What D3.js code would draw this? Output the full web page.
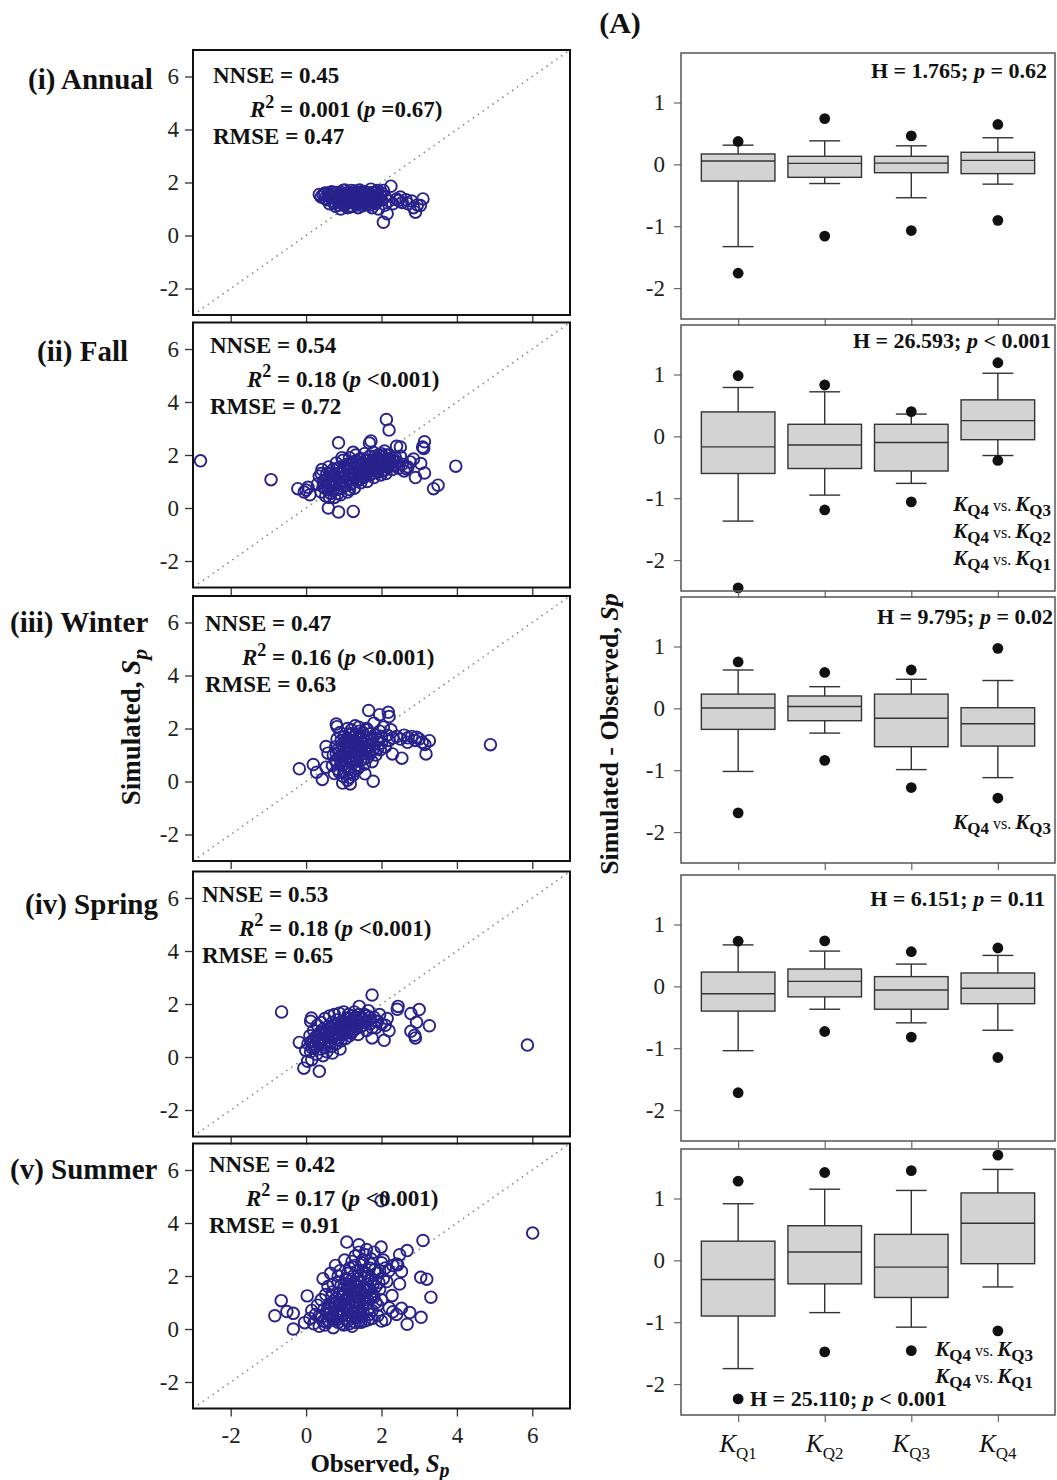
<!DOCTYPE html>
<html><head><meta charset="utf-8">
<script src="https://cdn.jsdelivr.net/npm/d3@7"></script>
<style>
body{margin:0;background:#fff}
svg{display:block}
text{font-family:"Liberation Serif","Times New Roman",serif;white-space:pre}
</style>
</head><body>
<svg id="chart" width="1057" height="1480"></svg>
<script>
// ---------------- DATA ----------------
const seasonLabels = ["(i) Annual", "(ii) Fall", "(iii) Winter", "(iv) Spring", "(v) Summer"];
const nnseValues = ["0.45", "0.54", "0.47", "0.53", "0.42"];
const r2Values = ["0.001", "0.18", "0.16", "0.18", "0.17"];
const r2PValues = ["=0.67", "<0.001", "<0.001", "<0.001", "<0.001"];
const rmseValues = ["0.47", "0.72", "0.63", "0.65", "0.91"];
const scatterTicks = [-2, 0, 2, 4, 6];

// Observed (x), Simulated (y)
const annualPoints = [[0.35,1.55],[0.4,1.45],[0.5,1.6],[0.55,1.35],[0.6,1.5],[0.62,1.2],[0.7,1.55],[0.72,1.3],[0.75,1.45],[0.78,1.1],[0.8,1.62],[0.85,1.4],[0.88,1.25],[0.9,1.55],[0.92,1.0],[0.95,1.35],[0.98,1.7],[1.0,1.15],[1.02,1.48],[1.05,1.3],[1.08,1.6],[1.1,1.05],[1.12,1.42],[1.15,1.25],[1.18,1.55],[1.2,1.7],[1.22,1.1],[1.25,1.38],[1.28,1.5],[1.3,1.2],[1.32,1.62],[1.35,1.32],[1.38,1.05],[1.4,1.45],[1.42,1.72],[1.45,1.25],[1.48,1.55],[1.5,1.12],[1.52,1.4],[1.55,1.65],[1.58,1.3],[1.6,1.5],[1.62,1.18],[1.65,1.42],[1.68,1.6],[1.7,1.28],[1.72,1.75],[1.75,1.05],[1.78,1.48],[1.8,1.35],[1.82,1.62],[1.85,1.2],[1.88,1.5],[1.9,1.7],[1.92,1.0],[1.95,1.4],[2.0,1.6],[2.05,0.5],[2.15,0.82],[2.1,1.15],[2.2,1.3],[2.25,1.86],[2.3,1.2],[2.4,1.38],[2.45,1.32],[2.5,1.45],[2.55,1.25],[2.65,1.35],[2.7,1.2],[2.8,1.3],[2.9,0.88],[2.95,1.15],[3.03,1.13],[3.1,1.38],[2.85,1.05]];
const annualCore = [[0.65,1.42],[0.68,1.65],[0.74,1.22],[0.83,1.52],[0.87,1.15],[0.93,1.62],[0.97,1.28],[1.03,1.72],[1.06,1.2],[1.09,1.45],[1.13,1.6],[1.16,1.08],[1.19,1.35],[1.23,1.55],[1.27,1.25],[1.29,1.68],[1.33,1.45],[1.36,1.15],[1.39,1.58],[1.43,1.35],[1.46,1.65],[1.49,1.28],[1.53,1.5],[1.56,1.2],[1.59,1.62],[1.63,1.35],[1.66,1.52],[1.69,1.15],[1.73,1.4],[1.76,1.62],[1.79,1.25],[1.83,1.45],[1.86,1.65],[1.89,1.3],[1.25,1.45],[1.15,1.5],[1.45,1.42],[1.35,1.52],[1.05,1.4],[1.55,1.38],[0.95,1.48],[1.65,1.3],[1.75,1.52],[1.2,1.25],[1.4,1.3],[0.45,1.55],[0.5,1.4],[0.58,1.6],[2.0,1.35],[2.1,1.45],[2.05,1.7],[1.97,1.52]];

const fallPoints = [[-2.8,1.78],[-0.93,1.07],[-0.22,0.73],[-0.05,0.6],[0.0,0.68],[0.1,0.5],[0.05,0.78],[0.59,0.0],[0.86,-0.15],[1.25,-0.13],[0.86,2.46],[2.13,3.34],[2.2,2.94],[1.72,2.53],[1.68,2.45],[2.4,2.33],[2.5,2.3],[3.14,2.5],[3.09,2.3],[3.12,2.25],[3.04,1.68],[3.14,1.32],[2.9,1.15],[3.38,0.73],[3.5,0.86],[3.97,1.58],[2.76,1.74],[2.65,1.49],[2.7,1.55],[2.85,1.85],
[0.3,0.9],[0.35,1.2],[0.4,0.6],[0.42,1.45],[0.45,0.8],[0.5,1.05],[0.52,0.45],[0.55,1.3],[0.58,0.7],[0.6,1.55],[0.62,0.95],
[0.65,0.55],[0.68,1.2],[0.7,0.85],[0.72,1.45],[0.75,0.4],[0.78,1.05],[0.8,1.7],[0.82,0.7],[0.85,1.3],[0.88,0.95],[0.9,1.55],[0.92,0.5],[0.95,1.15],[0.98,1.8],[1.0,0.8],
[1.02,1.4],[1.05,1.0],[1.08,1.65],[1.1,0.6],[1.12,1.25],[1.15,1.9],[1.18,0.9],[1.2,1.5],[1.22,1.1],[1.25,1.75],[1.28,0.75],[1.3,1.35],[1.32,2.0],[1.35,1.05],[1.38,1.6],[1.4,1.25],[1.42,1.85],[1.45,0.95],[1.48,1.45],[1.5,1.7],
[1.52,1.15],[1.55,2.05],[1.58,1.35],[1.6,1.8],[1.62,1.0],[1.65,1.55],[1.68,1.95],[1.7,1.25],[1.72,1.7],[1.75,1.45],[1.78,2.1],[1.8,1.15],[1.82,1.6],[1.85,1.85],[1.88,1.35],[1.9,1.75],[1.92,2.0],[1.95,1.5],[1.98,1.25],
[2.0,1.7],[2.02,1.95],[2.05,1.4],[2.08,2.15],[2.1,1.6],[2.12,1.3],[2.15,1.85],[2.18,1.55],[2.2,2.0],[2.25,1.7],[2.28,1.45],[2.3,1.9],[2.35,1.6],[2.4,1.75],[2.45,1.5],[2.5,1.95],[2.55,1.65],[2.6,1.4]];
const fallCore = [[0.45,1.0],[0.5,0.75],[0.55,1.1],[0.6,0.85],[0.65,1.3],[0.7,1.05],[0.72,0.65],[0.75,1.25],[0.8,0.95],[0.83,1.5],[0.87,1.15],[0.9,0.75],[0.93,1.35],[0.97,1.0],[1.0,1.55],[1.03,1.2],[1.06,0.85],[1.1,1.45],[1.13,1.1],[1.16,1.65],[1.2,1.3],[1.23,0.95],[1.27,1.55],[1.3,1.2],[1.33,1.75],[1.37,1.4],[1.4,1.05],[1.43,1.6],[1.47,1.3],[1.5,1.85],[1.53,1.5],[1.57,1.2],[1.6,1.65],[1.63,1.4],[1.67,1.8],[1.7,1.55],[1.73,1.3],[1.77,1.75],[1.8,1.5],[1.83,1.95],[1.87,1.65],[1.9,1.4],[1.93,1.85],[1.97,1.6],[2.0,2.05],[2.03,1.55],[2.07,1.8],[2.1,1.45],[2.13,2.0],[2.17,1.7],[2.22,1.85],[2.27,1.6],[2.32,1.75],[2.37,1.9],[0.85,0.55],[1.15,0.7],[0.62,0.4],[0.95,1.9],[1.25,2.1],[0.4,1.3]];

const winterPoints = [[-0.18,0.48],[0.19,0.64],[0.28,0.35],[0.43,0.08],[0.53,0.54],[0.53,1.32],[0.58,1.07],[0.8,2.17],[0.82,2.07],[0.97,-0.06],[1.17,-0.09],[1.1,0.05],[1.56,0.29],[1.78,0.01],[1.66,2.68],[1.95,2.52],[2.18,2.61],[2.2,2.45],[2.29,1.04],[2.54,0.88],[2.69,1.48],[2.93,1.67],[3.08,1.48],[3.18,1.04],[3.27,1.54],[3.15,1.4],[4.89,1.39],
[0.7,0.6],[0.72,1.0],[0.75,0.3],[0.78,1.3],[0.8,0.8],[0.82,1.6],[0.85,0.45],[0.88,1.1],[0.9,1.85],[0.92,0.7],[0.95,1.4],[0.98,0.2],[1.0,1.0],[1.02,1.7],[1.05,0.55],[1.08,1.25],[1.1,2.0],[1.12,0.85],[1.15,1.5],[1.18,0.35],[1.2,1.1],[1.22,1.8],[1.25,0.7],[1.28,1.35],[1.3,2.1],[1.32,0.95],[1.35,1.6],[1.38,0.5],[1.4,1.2],[1.42,1.9],[1.45,0.8],[1.48,1.45],[1.5,1.05],[1.52,1.7],[1.55,0.65],[1.58,1.3],[1.6,2.0],[1.62,0.9],[1.65,1.55],[1.68,1.15],[1.7,1.8],[1.75,0.75],[1.78,1.4],[1.8,2.2],[1.85,1.0],[1.88,1.6],[1.9,1.25],[1.95,1.9],[2.0,1.45],[2.05,2.05],[2.1,1.3],[2.15,1.75],[2.2,1.55],[2.25,1.95],[2.3,1.65],[2.4,1.7],[2.5,1.6],[2.6,1.75],[2.7,1.65],[2.8,1.7],[2.9,1.55],[3.0,1.6],[1.15,0.15],[1.25,0.25],[0.95,0.95],[1.05,1.5],[1.35,1.05]];
const winterCore = [[0.85,1.2],[0.9,0.95],[0.93,1.55],[0.97,0.6],[1.0,1.3],[1.03,0.85],[1.07,1.6],[1.1,1.1],[1.13,0.45],[1.15,1.8],[1.18,1.3],[1.2,0.75],[1.23,1.55],[1.27,1.0],[1.3,1.75],[1.33,0.6],[1.37,1.3],[1.4,0.95],[1.43,1.6],[1.47,1.15],[1.5,1.85],[1.53,0.85],[1.57,1.5],[1.6,1.15],[1.63,1.95],[1.67,1.35],[1.7,1.05],[1.73,1.6],[1.77,1.2],[1.25,1.45],[1.35,0.8],[1.45,1.35],[1.05,1.05],[1.15,0.95],[1.55,1.25],[1.2,1.95],[1.4,2.05],[0.88,0.35],[1.0,0.4],[1.3,0.4],[0.8,1.05],[1.82,1.75],[1.92,1.55],[2.0,1.7],[1.97,1.2]];

const springPoints = [[-0.65,1.7],[-0.18,0.55],[-0.06,-0.42],[0.35,-0.54],[-0.01,0.25],[0.04,-0.16],[0.15,-0.1],[0.14,1.47],[0.12,1.35],[1.75,2.34],[1.41,1.91],[2.44,1.91],[2.42,1.8],[2.78,1.64],[3.0,1.79],[3.27,1.18],[2.93,1.31],[2.78,0.97],[2.9,0.72],[2.88,0.82],[2.2,0.99],[2.07,0.63],[1.75,0.72],[2.1,1.2],[2.15,1.45],[5.87,0.45],
[0.05,0.5],[0.1,0.8],[0.12,0.2],[0.15,0.6],[0.2,1.0],[0.22,0.35],[0.25,0.75],[0.28,0.1],[0.3,1.2],[0.32,0.55],[0.35,0.9],[0.38,0.3],[0.4,1.3],[0.42,0.7],[0.45,1.05],[0.48,0.45],[0.5,1.45],[0.52,0.85],[0.55,0.2],[0.58,1.15],[0.6,0.6],[0.62,1.55],[0.65,0.95],[0.68,0.4],[0.7,1.3],[0.72,0.75],[0.75,1.6],[0.78,1.05],[0.8,0.5],[0.82,1.4],[0.85,0.85],[0.88,1.65],[0.9,1.15],[0.92,0.6],[0.95,1.35],[0.98,0.95],[1.0,1.7],[1.02,1.2],[1.05,0.7],[1.08,1.45],[1.1,1.0],[1.12,1.6],[1.15,0.8],[1.18,1.3],[1.2,1.55],[1.22,0.95],[1.25,1.2],[1.28,1.7],[1.3,1.05],[1.35,1.4],[1.38,0.85],[1.4,1.6],[1.45,1.15],[1.5,1.45],[1.55,1.3],[1.6,1.0],[1.62,1.55],[1.65,1.75],[1.7,1.25],[1.8,1.5],[1.85,1.1],[1.9,1.35],[1.95,1.6],[2.0,1.25],[0.9,0.3],[0.7,0.15],[0.45,0.05]];
const springCore = [[0.2,0.6],[0.25,0.4],[0.3,0.8],[0.35,0.55],[0.4,0.95],[0.45,0.65],[0.5,0.35],[0.55,1.0],[0.6,0.8],[0.65,0.55],[0.7,1.1],[0.75,0.85],[0.8,1.25],[0.85,0.65],[0.9,1.0],[0.95,1.25],[1.0,0.85],[1.05,1.3],[1.1,1.15],[1.15,1.45],[1.2,0.9],[1.25,1.35],[1.3,1.5],[1.35,1.15],[1.4,1.35],[1.45,1.5],[1.5,1.2],[1.55,1.6],[1.6,1.35],[1.7,1.5],[0.5,0.55],[0.62,0.95],[0.78,0.7],[0.88,1.05],[1.0,1.05],[1.12,1.25],[0.35,0.7],[0.15,0.35],[1.75,1.1],[1.85,1.35]];

const summerPoints = [[-0.83,0.5],[-0.66,1.07],[-0.51,0.66],[-0.34,0.59],[-0.34,0.0],[0.03,1.25],[-0.04,0.24],[6.01,3.62],[1.99,4.84],[1.08,3.28],[1.4,3.18],[3.1,3.34],[2.68,2.96],[2.48,2.8],[3.04,1.95],[3.2,1.88],[3.31,1.2],[3.05,0.44],[2.75,0.62],[2.68,0.18],[2.53,0.78],[2.48,1.7],[2.28,1.26],[2.53,2.17],[2.43,2.42],[2.14,1.79],[1.99,3.09],[2.3,0.65],[2.1,0.35],[2.4,0.55],[2.2,0.8],[2.0,0.3],
[0.1,0.4],[0.15,0.7],[0.2,0.2],[0.25,0.55],[0.3,0.9],[0.35,0.1],[0.4,1.1],[0.42,0.45],[0.45,1.9],[0.48,0.75],[0.5,0.15],[0.52,1.3],[0.55,0.6],[0.58,1.6],[0.6,0.3],[0.62,0.95],[0.65,2.1],[0.68,0.5],[0.7,1.4],[0.72,0.05],[0.75,0.8],[0.78,2.4],[0.8,1.15],[0.82,0.35],[0.85,1.75],[0.88,0.65],[0.9,2.2],[0.92,1.0],[0.95,0.2],[0.98,1.5],[1.0,0.55],[1.02,2.6],[1.05,0.9],[1.08,1.85],[1.1,0.3],[1.12,1.25],[1.15,2.3],[1.18,0.7],[1.2,1.6],[1.22,0.1],[1.25,2.0],[1.28,1.0],[1.3,2.75],[1.32,0.45],[1.35,1.4],[1.38,2.2],[1.4,0.8],[1.42,1.75],[1.45,0.25],[1.48,2.5],[1.5,1.15],[1.52,0.6],[1.55,1.95],[1.58,2.8],[1.6,0.95],[1.62,1.45],[1.65,0.35],[1.68,2.3],[1.7,1.2],[1.72,2.65],[1.75,0.7],[1.78,1.7],[1.8,2.9],[1.85,1.0],[1.88,2.1],[1.9,0.5],[1.95,1.5],[2.0,2.5],[2.05,1.9],[2.1,2.3],[2.2,2.2],[2.3,2.4],[2.4,2.45],[1.0,1.3],[1.1,1.6],[0.9,0.45],[1.25,0.6],[1.4,2.9],[1.6,3.0],[1.5,2.2]];
const summerCore = [[0.8,0.6],[0.85,0.25],[0.9,0.9],[0.95,0.55],[1.0,0.15],[1.0,0.85],[1.05,0.4],[1.08,1.15],[1.1,0.7],[1.15,0.2],[1.15,1.0],[1.2,0.45],[1.2,1.35],[1.25,0.85],[1.3,0.25],[1.3,1.2],[1.35,0.65],[1.35,1.65],[1.4,1.05],[1.45,0.55],[1.45,1.45],[1.5,0.85],[1.55,0.3],[1.55,1.25],[1.6,1.7],[1.65,0.75],[1.7,1.5],[1.75,0.4],[1.8,1.2],[0.7,0.35],[0.65,0.75],[0.75,1.05],[0.6,0.55],[0.55,0.25],[1.05,1.9],[1.25,1.7],[1.45,2.0],[1.65,2.0],[0.95,1.2],[1.15,1.5],[1.4,0.3],[1.9,0.9],[2.0,1.1],[1.85,1.6],[0.45,0.3],[0.35,0.5],[1.1,2.1],[1.3,2.4],[1.5,2.6],[1.7,2.45],
[0.88,1.35],[0.93,1.65],[1.03,1.1],[1.12,0.5],[1.18,1.8],[1.28,1.45],[1.33,0.9],[1.38,1.9],[1.43,1.2],[1.48,0.45],[1.53,1.55],[1.58,2.1],[1.63,1.1],[1.68,0.55],[1.73,1.85],[1.78,1.3],[1.83,2.25],[1.93,1.75],[0.78,0.95],[0.68,1.25],[0.58,0.8],[1.95,2.2],[2.05,2.6],[1.22,2.55],[0.72,1.7],[0.85,2.0]];

const scatterSeries = [annualPoints.concat(annualCore), fallPoints.concat(fallCore), winterPoints.concat(winterCore), springPoints.concat(springCore), summerPoints.concat(summerCore)];

// Box plots: Simulated - Observed residuals by discharge quartile
const categories = ["Q1", "Q2", "Q3", "Q4"];
const boxTicks = [-2, -1, 0, 1];
// [whiskerLow, q1, median, q3, whiskerHigh, outlierLow, outlierHigh]
const annualBoxes = [[-1.33,-0.27,0.054,0.168,0.31,-1.76,0.37],[-0.31,-0.21,0.016,0.13,0.38,-1.16,0.74],[-0.54,-0.135,0.02,0.13,0.30,-1.07,0.46],[-0.32,-0.15,0.065,0.195,0.43,-0.905,0.645]];
const fallBoxes = [[-1.37,-0.60,-0.17,0.395,0.79,-2.45,0.98],[-0.95,-0.52,-0.14,0.195,0.72,-1.19,0.83],[-0.76,-0.56,-0.10,0.195,0.36,-1.06,0.40],[-0.31,-0.054,0.254,0.59,1.02,-0.39,1.19]];
const winterBoxes = [[-1.02,-0.34,0.005,0.23,0.62,-1.69,0.75],[-0.40,-0.20,0.03,0.20,0.35,-0.84,0.58],[-0.99,-0.62,-0.16,0.23,0.47,-1.28,0.62],[-1.12,-0.61,-0.25,0.01,0.45,-1.45,0.97]];
const springBoxes = [[-1.04,-0.40,-0.12,0.23,0.67,-1.72,0.73],[-0.37,-0.17,0.08,0.28,0.57,-0.73,0.735],[-0.59,-0.37,-0.06,0.157,0.36,-0.82,0.56],[-0.71,-0.28,-0.03,0.216,0.50,-1.15,0.62]];
const summerBoxes = [[-1.75,-0.90,-0.31,0.31,0.915,-2.24,1.28],[-0.845,-0.38,0.135,0.56,1.15,-1.48,1.42],[-1.08,-0.60,-0.11,0.42,1.13,-1.46,1.45],[-0.43,-0.054,0.60,1.09,1.47,-1.14,1.70]];
const boxSeries = [annualBoxes, fallBoxes, winterBoxes, springBoxes, summerBoxes];

const kwH = ["1.765", "26.593", "9.795", "6.151", "25.110"];
const kwP = ["= 0.62", "< 0.001", "= 0.02", "= 0.11", "< 0.001"];
const pairwise = [[], [["Q4","Q3"],["Q4","Q2"],["Q4","Q1"]], [["Q4","Q3"]], [], [["Q4","Q3"],["Q4","Q1"]]];

// ---------------- LAYOUT ----------------
const svg = d3.select("#chart");
const leftTops = [50, 322.5, 596, 871.5, 1143.5];
const leftH = 265, leftX0 = 193, leftX1 = 570;
const rightTops = [53, 325, 597, 875, 1149];
const rightH = 266, rightX0 = 681, rightX1 = 1055;
const labelX = [28, 37, 10, 25, 10];
const labelDy = [39, 38, 36, 42, 35];
const statX = [213, 210, 205, 202, 209];
const statDy = [33, 30, 35, 30, 28];
const hRight = [1047, 1051, 1053, 1045, null];
const hDy = [25, 23, 27, 31, null];
const pairRight = [null, 1051, 1051, null, 1033];
const pairY0 = [null, 511, 829, null, 1356];
const circleColor = "#28228c";

function rich(g, x, y, parts, size, anchor) {
  const t = g.append("text").attr("x", x).attr("y", y)
    .attr("font-size", size).attr("text-anchor", anchor || "start").attr("fill", "#111");
  let shift = 0;
  parts.forEach(p => {
    const s = t.append("tspan").text(p.t);
    let target = 0;
    if (p.sub) target = size * (p.subOff || 0.3);
    if (p.sup) target = -size * 0.4;
    if (target - shift !== 0) s.attr("dy", target - shift);
    shift = target;
    if (p.sub || p.sup || p.s) s.attr("font-size", p.s || size * 0.78);
    if (p.i) s.attr("font-style", "italic");
    s.attr("font-weight", p.w || "bold");
  });
  return t;
}

// ---------------- LEFT: SCATTER PANELS ----------------
scatterSeries.forEach((pts, i) => {
  const top = leftTops[i];
  const g = svg.append("g");
  const x = d3.scaleLinear().domain([-3, 7]).range([leftX0, leftX1]);
  const y = d3.scaleLinear().domain([-3, 7]).range([top + leftH, top]);

  // 1:1 line
  g.append("line").attr("x1", x(-3)).attr("y1", y(-3)).attr("x2", x(7)).attr("y2", y(7))
    .attr("stroke", "#8a8a8a").attr("stroke-width", 1.6).attr("stroke-dasharray", "1.5,4.5");

  // points
  g.append("g").selectAll("circle").data(pts).join("circle")
    .attr("cx", d => x(d[0])).attr("cy", d => y(d[1])).attr("r", 5.8)
    .attr("fill", "none").attr("stroke", circleColor).attr("stroke-width", 1.9);

  // axes
  const ya = g.append("g").attr("transform", `translate(${leftX0},0)`)
    .call(d3.axisLeft(y).tickValues(scatterTicks).tickSize(8).tickPadding(6).tickFormat(d => String(d)));
  ya.select(".domain").remove();
  ya.selectAll("line").attr("stroke", "#333").attr("stroke-width", 1.3);
  ya.selectAll("text").attr("font-size", 23).attr("fill", "#222").attr("font-family", "Liberation Serif");

  const xa = g.append("g").attr("transform", `translate(0,${top + leftH})`)
    .call(d3.axisBottom(x).tickValues(scatterTicks).tickSize(8).tickPadding(10).tickFormat(d => i === 4 ? String(d) : ""));
  xa.select(".domain").remove();
  xa.selectAll("line").attr("stroke", "#333").attr("stroke-width", 1.3);
  xa.selectAll("text").attr("font-size", 23).attr("fill", "#222").attr("font-family", "Liberation Serif");

  // frame
  g.append("rect").attr("x", leftX0).attr("y", top).attr("width", leftX1 - leftX0).attr("height", leftH)
    .attr("fill", "none").attr("stroke", "#111").attr("stroke-width", 2);

  // season label
  g.append("text").attr("x", labelX[i]).attr("y", top + labelDy[i]).attr("font-size", 29)
    .attr("font-weight", "bold").attr("fill", "#111").text(seasonLabels[i]);

  // stats
  const sy = top + statDy[i];
  rich(g, statX[i], sy, [{t: "NNSE = " + nnseValues[i]}], 23);
  rich(g, statX[i] + 37, sy + 34, [
    {t: "R", i: true}, {t: "2", sup: true, s: 18}, {t: " = " + r2Values[i] + " ("},
    {t: "p", i: true}, {t: " " + r2PValues[i] + ")"}], 23);
  rich(g, statX[i], sy + 61, [{t: "RMSE = " + rmseValues[i]}], 23);
});

// ---------------- RIGHT: BOX PANELS ----------------
const xb = d3.scalePoint().domain(categories).range([rightX0, rightX1]).padding(0.66);
const bw = xb.step() * 0.85;
const capW = bw * 0.42;

boxSeries.forEach((boxes, i) => {
  const top = rightTops[i];
  const g = svg.append("g");
  const y = d3.scaleLinear().domain([-2.5, 1.8]).range([top + rightH, top]);

  const bg = g.append("g").selectAll("g").data(boxes).join("g")
    .attr("transform", (d, j) => `translate(${xb(categories[j])},0)`);
  // whiskers
  bg.append("line").attr("x1", 0).attr("x2", 0).attr("y1", d => y(d[0])).attr("y2", d => y(d[1]))
    .attr("stroke", "#333").attr("stroke-width", 1.4);
  bg.append("line").attr("x1", 0).attr("x2", 0).attr("y1", d => y(d[3])).attr("y2", d => y(d[4]))
    .attr("stroke", "#333").attr("stroke-width", 1.4);
  bg.append("line").attr("x1", -capW / 2).attr("x2", capW / 2).attr("y1", d => y(d[0])).attr("y2", d => y(d[0]))
    .attr("stroke", "#333").attr("stroke-width", 1.4);
  bg.append("line").attr("x1", -capW / 2).attr("x2", capW / 2).attr("y1", d => y(d[4])).attr("y2", d => y(d[4]))
    .attr("stroke", "#333").attr("stroke-width", 1.4);
  // box
  bg.append("rect").attr("x", -bw / 2).attr("width", bw).attr("y", d => y(d[3])).attr("height", d => y(d[1]) - y(d[3]))
    .attr("fill", "#d3d3d3").attr("stroke", "#333").attr("stroke-width", 1.4);
  bg.append("line").attr("x1", -bw / 2).attr("x2", bw / 2).attr("y1", d => y(d[2])).attr("y2", d => y(d[2]))
    .attr("stroke", "#333").attr("stroke-width", 1.4);
  // outliers
  bg.append("circle").attr("cx", 0).attr("cy", d => y(d[5])).attr("r", 5.4).attr("fill", "#111");
  bg.append("circle").attr("cx", 0).attr("cy", d => y(d[6])).attr("r", 5.4).attr("fill", "#111");

  // axes
  const ya = g.append("g").attr("transform", `translate(${rightX0},0)`)
    .call(d3.axisLeft(y).tickValues(boxTicks).tickSize(7).tickPadding(9).tickFormat(d => String(d)));
  ya.select(".domain").remove();
  ya.selectAll("line").attr("stroke", "#666").attr("stroke-width", 1.2);
  ya.selectAll("text").attr("font-size", 23).attr("fill", "#222").attr("font-family", "Liberation Serif");

  const xa = g.append("g").attr("transform", `translate(0,${top + rightH})`)
    .call(d3.axisBottom(xb).tickSize(7).tickFormat(""));
  xa.select(".domain").remove();
  xa.selectAll("line").attr("stroke", "#666").attr("stroke-width", 1.2);

  g.append("rect").attr("x", rightX0).attr("y", top).attr("width", rightX1 - rightX0).attr("height", rightH)
    .attr("fill", "none").attr("stroke", "#555").attr("stroke-width", 1.5);

  // Kruskal-Wallis annotation
  const hParts = [{t: "H = " + kwH[i] + "; "}, {t: "p", i: true}, {t: " " + kwP[i]}];
  if (hRight[i] !== null) rich(g, hRight[i], top + hDy[i], hParts, 22, "end");
  else rich(g, 750, 1406, hParts, 22, "start");

  // pairwise comparisons
  pairwise[i].forEach((pr, k) => {
    rich(g, pairRight[i], pairY0[i] + k * 27, [
      {t: "K", i: true}, {t: pr[0], sub: true, subOff: 0.22, s: 17},
      {t: " vs. ", w: "normal", s: 16}, {t: "K", i: true}, {t: pr[1], sub: true, subOff: 0.22, s: 17}], 21, "end");
  });
});

// category labels
categories.forEach(c => {
  rich(svg, xb(c), 1452, [{t: "K", i: true, w: "normal"}, {t: c, sub: true, subOff: 0.28, s: 17, w: "normal"}], 25, "middle");
});

// ---------------- TITLES ----------------
rich(svg, 620, 33, [{t: "(A)"}], 30, "middle");
rich(svg, 380, 1472, [{t: "Observed, "}, {t: "S", i: true}, {t: "p", i: true, sub: true, subOff: 0.2, s: 20}], 25, "middle");
const yl = svg.append("g").attr("transform", "translate(140,727) rotate(-90)");
rich(yl, 0, 0, [{t: "Simulated, "}, {t: "S", i: true}, {t: "p", i: true, sub: true, subOff: 0.25, s: 22}], 27, "middle");
const yr = svg.append("g").attr("transform", "translate(618,734) rotate(-90)");
rich(yr, 0, 0, [{t: "Simulated - Observed, "}, {t: "Sp", i: true}], 26, "middle");
</script>
</body></html>
